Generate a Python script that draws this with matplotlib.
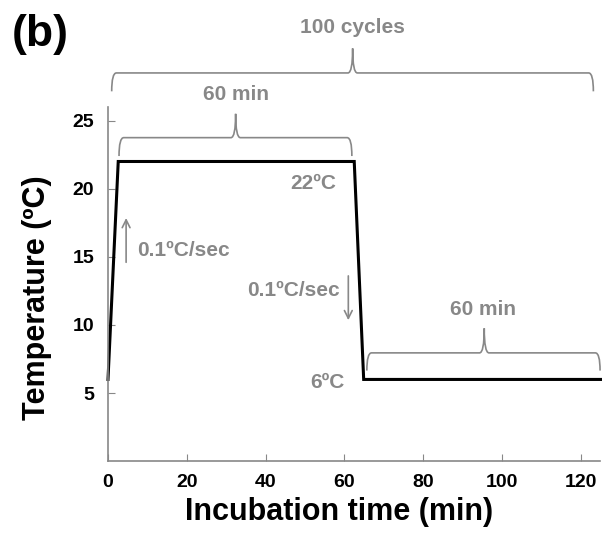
"""
Temperature cycling profile: 60 min at 22ºC, 60 min at 6ºC, 100 cycles.
"""
import matplotlib
matplotlib.use('Agg')
import matplotlib.pyplot as plt
from matplotlib.path import Path
from matplotlib.patches import PathPatch

plt.rcParams['font.family'] = ['Liberation Sans', 'DejaVu Sans']
plt.rcParams['font.weight'] = 'bold'

# ── data ──
time_min = [0, 2.6, 62.5, 64.9, 125]
temp_c = [6, 22, 22, 6, 6]
x_ticks = [0, 20, 40, 60, 80, 100, 120]
y_ticks = [5, 10, 15, 20, 25]

GRAY = '#888888'
FS_NOTE = 15


def brace(ax, x0, x1, y, h, tip, xm=None):
    """curly brace 从 x0 到 x1, 基线 y, 两端下弯 h, 中间尖端上凸 tip"""
    if xm is None:
        xm = (x0 + x1) / 2
    r = 1.2
    verts = [(x0, y - h), (x0, y), (x0 + r, y),
             (xm - r, y), (xm, y), (xm, y + tip),
             (xm, y), (xm + r, y),
             (x1 - r, y), (x1, y), (x1, y - h)]
    codes = [Path.MOVETO, Path.CURVE3, Path.CURVE3,
             Path.LINETO, Path.CURVE3, Path.CURVE3,
             Path.CURVE3, Path.CURVE3,
             Path.LINETO, Path.CURVE3, Path.CURVE3]
    ax.add_patch(PathPatch(Path(verts, codes), fc='none', ec=GRAY, lw=1.2, clip_on=False))


def note(ax, x, y, s, ha='center'):
    ax.text(x, y, s, color=GRAY, fontsize=FS_NOTE, fontweight='bold',
            ha=ha, va='center', clip_on=False)


fig = plt.figure(figsize=(6.05, 5.35), dpi=100)
ax = fig.add_axes([0.1785, 0.138, 0.814, 0.662])

ax.plot(time_min, temp_c, color='black', lw=2.2, solid_joinstyle='miter', clip_on=False)

ax.set_xlim(0, 125)
ax.set_ylim(0, 26)
ax.set_xticks(x_ticks)
ax.set_yticks(y_ticks)
ax.tick_params(direction='in', length=5, color=GRAY, labelsize=14)
ax.tick_params(axis='x', pad=9)
ax.tick_params(axis='y', pad=10)
for lab in ax.get_xticklabels() + ax.get_yticklabels():
    lab.set_fontweight('bold')
for s in ['top', 'right']:
    ax.spines[s].set_visible(False)
for s in ['left', 'bottom']:
    ax.spines[s].set_color(GRAY)
    ax.spines[s].set_linewidth(1.2)

ax.set_xlabel('Incubation time (min)', fontsize=22, fontweight='bold')
ax.set_ylabel('Temperature (ºC)', fontsize=22, fontweight='bold')
ax.xaxis.set_label_coords(0.469, -0.102)
ax.yaxis.set_label_coords(-0.113, 0.463)

# ── 注释 ──
brace(ax, 0.94, 123.2, 28.5, 1.35, 1.8, xm=62.1)
note(ax, 62.1, 31.8, '100 cycles')

brace(ax, 2.8, 61.9, 23.75, 1.35, 1.75, xm=32.4)
note(ax, 32.5, 26.9, '60 min')

brace(ax, 65.7, 124.9, 7.95, 1.3, 1.8, xm=95.5)
note(ax, 95.3, 11.1, '60 min')

note(ax, 52.0, 20.35, '22ºC')
note(ax, 55.6, 5.75, '6ºC')

note(ax, 7.45, 15.5, '0.1ºC/sec', ha='left')
ax.annotate('', xy=(4.6, 17.85), xytext=(4.6, 14.6),
            arrowprops=dict(arrowstyle='->', color=GRAY, lw=1.2,
                            shrinkA=0, shrinkB=0, mutation_scale=14))

note(ax, 58.8, 12.55, '0.1ºC/sec', ha='right')
ax.annotate('', xy=(61.0, 10.35), xytext=(61.0, 13.6),
            arrowprops=dict(arrowstyle='->', color=GRAY, lw=1.2,
                            shrinkA=0, shrinkB=0, mutation_scale=14))

fig.text(0.02, 0.935, '(b)', fontsize=32, fontweight='bold', ha='left', va='center')

fig.savefig('out.png', dpi=100)
